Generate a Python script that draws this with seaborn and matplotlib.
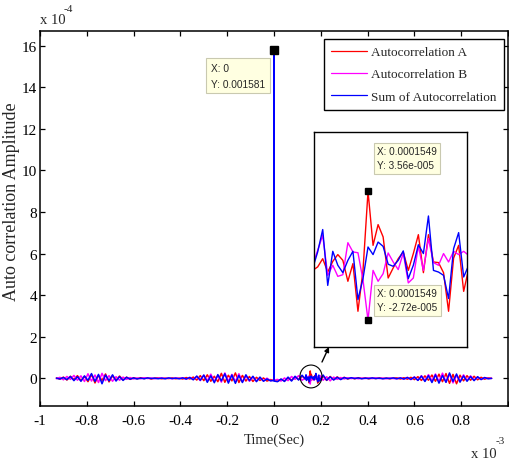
import numpy as np
import pandas as pd
import matplotlib
matplotlib.use("Agg")
import matplotlib.pyplot as plt
from matplotlib.patches import Ellipse
from matplotlib.lines import Line2D
import seaborn as sns

# ---------------------------------------------------------------- data
# Full lag record (seconds): -0.93 ms ... 0.93 ms, 15 us apart (125 lags)
lags = np.linspace(-0.93e-3, 0.93e-3, 125)

# Autocorrelation values on that grid, in units of 1e-5
auto_a = [0.2, -0.4, 0.6, -0.8, 1.0, -0.6, 1.3, -1.1, 0.9, -1.6,
          1.8, -2.2, 1.4, -1.0, 2.1, -1.7, 1.2, -0.9, 1.1, -0.7,
          0.6, -0.5, 0.3, -0.2, 0.3, -0.1, 0.2, -0.3, 0.1, 0.2,
          -0.2, 0.1, -0.1, 0.2, -0.2, 0.1, -0.3, 0.4, -0.3, 0.6,
          -0.8, 1.3, -1.1, 1.7, -1.4, 1.0, -1.6, 2.4, -1.9, 1.5,
          -1.2, 2.6, -2.0, 1.4, -1.3, 0.9, -1.5, 0.5, -1.0, 0.2,
          -1.3, -0.6,
          -1.0,
          -1.4, -0.5, -1.2, 0.3, -0.9, 0.8, -0.6, 1.1, -1.0, 1.2,
          -1.3, 1.5, -0.8, 1.1, -1.0, 0.9, -0.6, 0.7, -0.4, 0.5,
          -0.3, 0.2, -0.2, 0.3, -0.1, 0.2, -0.2, 0.1, -0.1, 0.2,
          -0.1, 0.1, -0.2, 0.1, 0.2, -0.3, 0.3, -0.4, 0.5, -0.6,
          0.8, -1.0, 1.2, -0.9, 1.6, -1.4, 2.0, -1.6, 2.3, -2.4,
          1.9, -2.6, 1.5, -1.2, 1.3, -0.9, 1.0, -0.7, 0.5, -0.4,
          0.2, 0.0]
auto_b = [-0.2, 0.5, -0.7, 0.9, -0.5, 1.4, -0.9, 1.2, -1.5, 2.2,
          -1.3, 1.6, -2.0, 2.4, -1.1, 1.3, -1.4, 0.8, -0.9, 0.6,
          -0.5, 0.4, -0.3, 0.2, -0.2, 0.3, -0.1, 0.2, -0.2, 0.1,
          0.2, -0.1, 0.1, -0.2, 0.2, -0.1, 0.3, -0.4, 0.5, -0.5,
          0.9, -1.1, 1.5, -1.2, 2.0, -1.5, 1.3, -1.8, 2.6, -1.4,
          1.9, -1.5, 2.2, -1.7, 1.2, -1.4, 0.7, -1.3, 0.4, -1.2,
          0.1, -1.1,
          -0.9,
          -0.5, -1.3, 0.2, -1.1, 0.9, -0.5, 1.3, -0.9, 1.0, -1.4,
          1.2, -1.1, 1.4, -0.9, 0.8, -1.2, 0.6, -0.5, 0.4, -0.3,
          0.3, -0.1, 0.2, -0.2, 0.1, -0.1, 0.2, -0.1, 0.2, -0.1,
          0.1, -0.2, 0.2, -0.1, -0.2, 0.3, -0.4, 0.5, -0.6, 0.7,
          -0.9, 1.3, -1.1, 1.8, -1.2, 2.1, -1.5, 2.5, -1.8, 2.0,
          -2.2, 1.4, -1.6, 1.7, -1.0, 1.2, -0.8, 0.6, -0.5, 0.3,
          -0.1, 0.0]
auto_sum = [0.1, -0.3, 0.4, -0.6, 0.9, -1.1, 0.8, -1.4, 1.2, -1.0,
            2.3, -1.5, 1.9, -2.6, 1.6, -1.2, 1.7, -1.3, 0.8, -1.0,
            0.5, -0.4, 0.2, -0.3, 0.1, -0.2, 0.2, -0.1, 0.1, -0.2,
            0.1, -0.2, 0.2, -0.1, 0.1, -0.2, 0.2, -0.3, 0.4, -0.7,
            1.1, -0.9, 1.6, -1.9, 1.2, -2.1, 1.8, -1.2, 2.2, -2.3,
            1.6, -2.4, 1.4, -2.0, 1.7, -1.1, 1.0, -1.6, 0.6, -1.4,
            -0.3, -1.2,
            158.1,
            -1.6, -0.3, -1.5, 0.6, -1.3, 1.0, -0.8, 1.5, -1.2, 0.9,
            -1.6, 1.3, -1.2, 1.6, -0.9, 0.7, -0.8, 0.5, -0.6, 0.4,
            -0.2, 0.3, -0.1, 0.2, -0.2, 0.1, -0.1, 0.2, -0.1, 0.1,
            -0.2, 0.1, -0.1, 0.2, -0.2, 0.2, -0.3, 0.4, -0.5, 0.6,
            -1.0, 1.1, -1.5, 1.3, -2.0, 1.7, -2.3, 1.4, -1.9, 2.6,
            -1.5, 2.1, -1.8, 1.2, -1.4, 0.9, -1.1, 0.8, -0.6, 0.4,
            -0.2, 0.0]

# Lags right beside the zero-lag peak of the summed curve
peak_side_lags = [-0.5e-6, 0.5e-6]
peak_side_sum = [-1.0, -1.3]

# Finely sampled stretch around 0.155 ms (2 us per lag), units of 1e-5
zoom_center = 0.0001549
zoom_step = 2e-6
zoom_lags = zoom_center + np.arange(-11, 21) * zoom_step
zoom_a = [-0.29, -0.12, 0.28, -0.37, 0.15, 0.48, 0.20, -0.82, 0.04, -2.28,
          -0.30, 3.56, 0.93, 1.94, 1.34, -0.66, -0.17, 0.28, 0.61, -0.29,
          0.53, 1.45, -0.40, 1.45, 0.12, 0.09, -0.40, -2.28, 0.31, 0.93,
          -1.31, -0.20]
zoom_b = [-0.04, 0.69, 1.42, -0.53, -0.04, -0.58, -0.50, 1.06, 0.61, 0.57,
          -0.75, -2.72, -0.29, -0.82, -0.45, 0.56, 0.12, -0.25, 0.56, -0.90,
          -0.66, 0.90, -0.29, 1.26, 0.09, -0.04, 0.53, 0.12, 0.64, 0.48,
          0.64, 0.44]
zoom_sum = [-0.20, 0.61, 1.70, -1.02, 0.64, -0.04, -0.40, 0.20, 0.64, -1.71,
            -0.69, 0.85, 0.48, 1.09, 0.88, 0.01, -0.09, 0.20, 0.66, -0.69,
            -0.04, 0.96, 0.53, 2.36, -0.29, -0.37, -0.53, -1.66, 0.77, 1.55,
            -0.61, -0.04]

series_names = ["Autocorrelation A", "Autocorrelation B", "Sum of Autocorrelation"]
series_colors = ["#ff0000", "#ff00ff", "#0000ff"]

# ---------------------------------------------------------------- tables
unit = 1e-5
in_zoom = (lags >= zoom_lags.min()) & (lags <= zoom_lags.max())


def full_series(coarse, fine, extra_t=(), extra_v=()):
    t = np.concatenate([lags[~in_zoom], zoom_lags, np.asarray(extra_t, float)])
    v = np.concatenate([np.asarray(coarse)[~in_zoom], np.asarray(fine),
                        np.asarray(extra_v, float)]) * unit
    order = np.argsort(t, kind="stable")
    return t[order], v[order]


frames, zframes = [], []
for name, coarse, fine, ex_t, ex_v in [
        (series_names[0], auto_a, zoom_a, (), ()),
        (series_names[1], auto_b, zoom_b, (), ()),
        (series_names[2], auto_sum, zoom_sum, peak_side_lags, peak_side_sum)]:
    t, v = full_series(coarse, fine, ex_t, ex_v)
    frames.append(pd.DataFrame({"t": t / 1e-3, "y": v / 1e-4, "series": name}))
    zframes.append(pd.DataFrame({"t": zoom_lags, "y": np.asarray(fine) * unit,
                                 "series": name}))
main_df = pd.concat(frames, ignore_index=True)
zoom_df = pd.concat(zframes, ignore_index=True)
palette = dict(zip(series_names, series_colors))

# ---------------------------------------------------------------- style
sns.set_style("ticks")
plt.rcParams.update({
    "font.family": ["Liberation Serif", "DejaVu Serif"],
    "axes.unicode_minus": False,
    "axes.linewidth": 1.1,
    "xtick.direction": "in", "ytick.direction": "in",
    "xtick.top": True, "ytick.right": True,
    "xtick.major.size": 3.8, "ytick.major.size": 3.8,
    "xtick.major.width": 0.9, "ytick.major.width": 0.9,
    "xtick.color": "black", "ytick.color": "black",
    "axes.edgecolor": "black",
})

W, H = 509, 464
fig = plt.figure(figsize=(W / 100, H / 100), dpi=100)


def fx(px):
    return px / W


def fy(py):
    return 1 - py / H


ax = fig.add_axes([fx(40), fy(407), fx(508) - fx(40), fy(32) - fy(407)])
sns.lineplot(data=main_df, x="t", y="y", hue="series", palette=palette,
             hue_order=series_names, estimator=None, sort=False,
             linewidth=1.1, legend=False, ax=ax)
ax.set_xlim(-1, 1)
ax.set_ylim(-1.33, 16.71)
ax.set_xticks(np.arange(-1, 1.01, 0.2))
ax.set_xticklabels(["-1", "-0.8", "-0.6", "-0.4", "-0.2", "0",
                    "0.2", "0.4", "0.6", "0.8", ""])
ax.set_yticks(np.arange(0, 17, 2))
ax.set_yticklabels([str(v) for v in range(0, 17, 2)])
ax.tick_params(axis="both", labelsize=11)
ax.tick_params(axis="x", pad=6)
ax.tick_params(axis="y", pad=2)
ax.set_xlabel("Time(Sec)", fontsize=10.5, labelpad=4)
ax.set_ylabel("Auto correlation Amplitude", fontsize=13)
ax.yaxis.set_label_coords(-0.043, 0.547)
for s in ax.spines.values():
    s.set_visible(True)

# axis exponent labels
fig.text(fx(40), fy(24), "x 10", fontsize=10.5, ha="left", va="baseline")
fig.text(fx(64), fy(12), "-4", fontsize=8, ha="left", va="baseline")
fig.text(fx(471), fy(458), "x 10", fontsize=10.5, ha="left", va="baseline")
fig.text(fx(496), fy(444), "-3", fontsize=8, ha="left", va="baseline")

# legend
handles = [Line2D([], [], color=c, lw=0.9) for c in series_colors]
leg = ax.legend(handles, series_names, loc="upper right",
                bbox_to_anchor=(0.991, 0.979), borderaxespad=0,
                fontsize=9.5, handlelength=2.7, handletextpad=0.3,
                labelspacing=0.75, borderpad=0.55, fancybox=False,
                framealpha=1, edgecolor="black")
leg.get_frame().set_linewidth(1.0)

# data tip on the zero-lag peak
peak_y = 158.1 * unit
ax.plot([0], [peak_y / 1e-4], marker="s", ms=5.5, mfc="black", mec="black",
        zorder=6, clip_on=False)
tip_box = dict(boxstyle="square,pad=0.45", fc="#ffffe1", ec="#c9c9b0", lw=0.8)
fig.text(fx(211), fy(64), f"X: 0\nY: {peak_y:.6f}".rstrip("0"),
         family=["Liberation Sans", "DejaVu Sans"], fontsize=7.3,
         ha="left", va="top", linespacing=1.7, bbox=tip_box, zorder=7)

# circle marking the zoomed stretch, with a pointer to the inset
ax.add_patch(Ellipse((0.158, 0.09), 0.094, 1.1, fill=False, ec="black",
                     lw=0.8, zorder=5))
ax.annotate("", xy=(329, H - 348), xytext=(322, H - 363),
            xycoords="figure pixels", textcoords="figure pixels",
            arrowprops=dict(arrowstyle="-|>", color="black", lw=1.0,
                            mutation_scale=7, shrinkA=0, shrinkB=0))

# ---------------------------------------------------------------- inset
ax_in = fig.add_axes([fx(314), fy(348), fx(467) - fx(314), fy(133) - fy(348)])
sns.lineplot(data=zoom_df, x="t", y="y", hue="series", palette=palette,
             hue_order=series_names, estimator=None, sort=False,
             linewidth=1.0, legend=False, ax=ax_in)
ax_in.set_xlim(zoom_center + (-0.73 - 10) * zoom_step,
               zoom_center + (29.66 - 10) * zoom_step)
ax_in.set_ylim(-4.02e-5, 6.45e-5)
ax_in.set_xticks([])
ax_in.set_yticks([])
ax_in.set_xlabel("")
ax_in.set_ylabel("")
ax_in.set_facecolor("white")
for s in ax_in.spines.values():
    s.set_visible(True)
    s.set_linewidth(1.0)


def matlab_exp(v):
    mant, ex = f"{v:.2e}".split("e")
    return f"{mant}e{ex[0]}{int(ex[1:]):03d}"


a_peak = zoom_a[11] * unit
b_low = zoom_b[11] * unit
ax_in.plot([zoom_center, zoom_center], [a_peak, b_low], ls="none", marker="s",
           ms=5, mfc="black", mec="black", zorder=6, clip_on=False)
small_box = dict(boxstyle="square,pad=0.35", fc="#ffffe1", ec="#c9c9b0", lw=0.8)
fig.text(fx(377), fy(147), f"X: {zoom_center:.7f}\nY: {matlab_exp(a_peak)}",
         family=["Liberation Sans", "DejaVu Sans"], fontsize=7.2,
         ha="left", va="top", linespacing=1.55, bbox=small_box, zorder=7)
fig.text(fx(377), fy(289), f"X: {zoom_center:.7f}\nY: {matlab_exp(b_low)}",
         family=["Liberation Sans", "DejaVu Sans"], fontsize=7.2,
         ha="left", va="top", linespacing=1.55, bbox=small_box, zorder=7)

fig.savefig("out.png", dpi=100)
